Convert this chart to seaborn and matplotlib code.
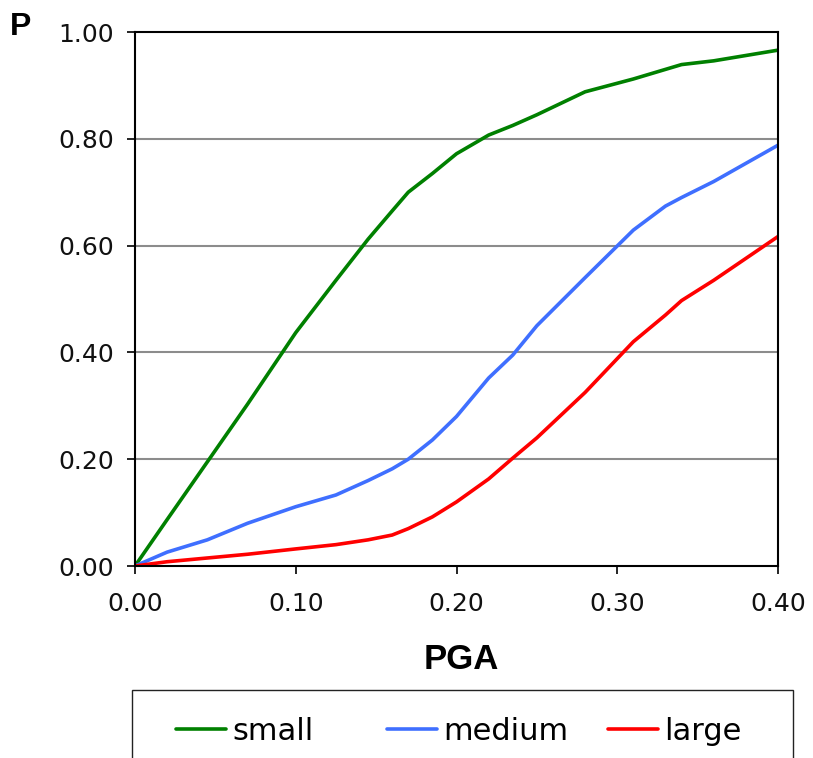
import matplotlib
matplotlib.use("Agg")
import matplotlib.pyplot as plt
from matplotlib.patches import Rectangle
import numpy as np
import pandas as pd
import seaborn as sns

# Peak ground acceleration values (g)
pga = [0.0, 0.02, 0.045, 0.07, 0.10, 0.125, 0.145, 0.16, 0.17, 0.185,
       0.20, 0.22, 0.235, 0.25, 0.28, 0.31, 0.33, 0.34, 0.36, 0.40]

# Exceedance probability for each damage level
p_small = [0.0, 0.087, 0.195, 0.303, 0.437, 0.535, 0.612, 0.665, 0.700, 0.735,
           0.772, 0.807, 0.825, 0.845, 0.888, 0.912, 0.930, 0.939, 0.946, 0.966]
p_medium = [0.0, 0.026, 0.049, 0.080, 0.111, 0.133, 0.160, 0.182, 0.200, 0.236,
            0.280, 0.352, 0.395, 0.450, 0.540, 0.629, 0.674, 0.690, 0.720, 0.788]
p_large = [0.0, 0.008, 0.015, 0.022, 0.032, 0.040, 0.049, 0.058, 0.070, 0.092,
           0.120, 0.163, 0.202, 0.240, 0.325, 0.420, 0.470, 0.497, 0.535, 0.617]

levels = ["small", "medium", "large"]
colors = {"small": "#008000", "medium": "#3F6FFF", "large": "#FF0000"}

x_ticks = [0.0, 0.1, 0.2, 0.3, 0.4]
x_ticklabels = ["0.00", "0.10", "0.20", "0.30", "0.40"]
y_ticks = [0.0, 0.2, 0.4, 0.6, 0.8, 1.0]
y_ticklabels = ["0.00", "0.20", "0.40", "0.60", "0.80", "1.00"]

df = pd.DataFrame({
    "PGA": pga * 3,
    "P": p_small + p_medium + p_large,
    "level": [lv for lv in levels for _ in pga],
})

sns.set_theme(style="white")
plt.rcParams["font.family"] = ["DejaVu Sans"]
plt.rcParams["text.color"] = "black"

W, H = 813, 758
fig = plt.figure(figsize=(W / 100, H / 100), dpi=100)
ax = fig.add_axes([135 / W, 1 - 566 / H, 643 / W, 534 / H])

sns.lineplot(data=df, x="PGA", y="P", hue="level", hue_order=levels,
             palette=colors, linewidth=2.6, ax=ax)

ax.set_xlim(0, 0.4)
ax.set_ylim(0, 1.0)
ax.set_xticks(x_ticks)
ax.set_xticklabels(x_ticklabels)
ax.set_yticks(y_ticks)
ax.set_yticklabels(y_ticklabels)
ax.set_xlabel("")
ax.set_ylabel("")

for yv in y_ticks[1:-1]:
    ax.axhline(yv, color="#8C8C8C", linewidth=1.5, zorder=0.5)

for s in ax.spines.values():
    s.set_visible(True)
    s.set_color("black")
    s.set_linewidth(1.5)

ax.tick_params(axis="both", direction="out", length=6, width=1.2,
               color="black", labelsize=18, labelcolor="#111111")
ax.tick_params(axis="x", pad=13, bottom=True)
ax.tick_params(axis="y", pad=9, left=True)

# Axis titles
fig.text(10 / W, 1 - 35 / H, "P", ha="left", va="baseline", color="black",
         fontsize=23, fontweight="bold", family=["Liberation Sans", "DejaVu Sans"])
fig.text(461 / W, 1 - 669 / H, "PGA", ha="center", va="baseline", color="black",
         fontsize=25, fontweight="bold", family=["Liberation Sans", "DejaVu Sans"])

# Legend: framed box under the plot, one entry per damage level
leg = ax.get_legend()
handles = list(leg.legend_handles)
labels = [t.get_text() for t in leg.get_texts()]
leg.remove()

fig.add_artist(Rectangle((132 / W, -0.05), (793 - 132) / W, 0.05 + 1 - 690 / H,
                         transform=fig.transFigure, facecolor="none",
                         edgecolor="#222222", linewidth=1.0, clip_on=False))

starts = [176, 387, 608]
for h, lab, x0 in zip(handles, labels, starts):
    h.set_linewidth(2.6)
    fig.legend([h], [lab], loc="center left",
               bbox_to_anchor=(x0 / W, 1 - 731 / H),
               frameon=False, fontsize=22, handlelength=1.62,
               handletextpad=0.23, borderpad=0, borderaxespad=0,
               labelcolor="black")

fig.savefig("out.png", dpi=100)
